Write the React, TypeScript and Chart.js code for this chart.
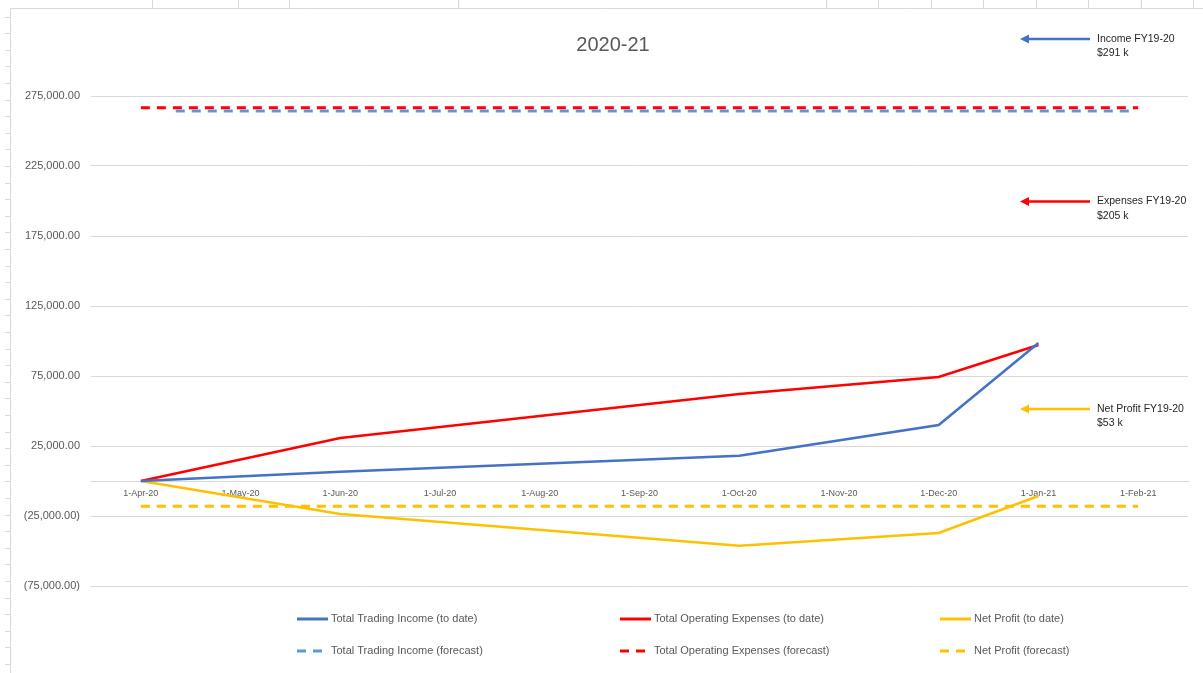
import React, { useEffect, useRef } from 'react';
import { Chart, registerables } from 'chart.js';

Chart.register(...registerables);

// ---------------- data ----------------
const TITLE = '2020-21';
const MONTH_LABELS = [
  '1-Apr-20', '1-May-20', '1-Jun-20', '1-Jul-20', '1-Aug-20', '1-Sep-20',
  '1-Oct-20', '1-Nov-20', '1-Dec-20', '1-Jan-21', '1-Feb-21',
];
const Y_TICKS = [-75000, -25000, 25000, 75000, 125000, 175000, 225000, 275000];
const Y_MIN = -75000;
const Y_MAX = 300000;

// month index of each actual ("to date") observation
const ACTUAL_MONTHS = [0, 2, 6, 8, 9];
const INCOME_TO_DATE = [0, 6600, 18100, 40000, 98600];
const EXPENSES_TO_DATE = [0, 30700, 62100, 74300, 97100];
const NET_PROFIT_TO_DATE = [0, -23600, -46200, -37100, -10700];

// forecast lines: start/end month index and value
const INCOME_FORECAST_SPAN = [0.35, 9.93];
const INCOME_FORECAST = [264300, 264300];
const EXPENSES_FORECAST_SPAN = [0, 10];
const EXPENSES_FORECAST = [266600, 266600];
const NET_PROFIT_FORECAST_SPAN = [0, 10];
const NET_PROFIT_FORECAST = [-18000, -18000];

const SERIES_NAMES = [
  'Total Trading Income (to date)',
  'Total Operating Expenses (to date)',
  'Net Profit (to date)',
  'Total Trading Income (forecast)',
  'Total Operating Expenses (forecast)',
  'Net Profit (forecast)',
];
const NOTE_INCOME = ['Income FY19-20', '$291 k'];
const NOTE_EXPENSES = ['Expenses FY19-20', '$205 k'];
const NOTE_NET = ['Net Profit FY19-20', '$53 k'];

// ---------------- styles ----------------
const BLUE = '#4472C4';
const RED = '#FF0000';
const GOLD = '#FFC000';
const LIGHT_BLUE = '#5B9BD5';
const GRID = '#D9D9D9';
const TEXT = '#595959';
const FONT = "'Liberation Sans', Arial, sans-serif";
const DASH = [9, 7];

const fmtNum = (v: number) => {
  const a = Math.abs(v);
  const [i, d] = a.toFixed(2).split('.');
  const withCommas = i.replace(/\B(?=(\d{3})+(?!\d))/g, ',');
  const s = `${withCommas}.${d}`;
  return v < 0 ? `(${s})` : s;
};

const pts = (xs: number[], ys: number[]) => xs.map((x, i) => ({ x, y: ys[i] }));

const decorPlugin = {
  id: 'decor',
  beforeDraw(chart: any) {
    const ctx = chart.ctx as CanvasRenderingContext2D;
    ctx.save();
    ctx.fillStyle = '#ffffff';
    ctx.fillRect(0, 0, chart.width, chart.height);
    ctx.strokeStyle = GRID;
    ctx.lineWidth = 1;
    // sheet cell marks around chart frame
    ctx.beginPath();
    [152, 238, 289, 458, 826, 878, 931, 983, 1036, 1088, 1141, 1193].forEach((x) => {
      ctx.moveTo(x + 0.5, 0);
      ctx.lineTo(x + 0.5, 8);
    });
    for (let y = 16.6; y < chart.height; y += 16.6) {
      ctx.moveTo(5, Math.round(y) + 0.5);
      ctx.lineTo(10, Math.round(y) + 0.5);
    }
    // chart frame
    ctx.moveTo(10.5, chart.height);
    ctx.lineTo(10.5, 8.5);
    ctx.lineTo(chart.width, 8.5);
    ctx.stroke();
    ctx.restore();
  },
  afterDraw(chart: any) {
    const ctx = chart.ctx as CanvasRenderingContext2D;
    ctx.save();
    // title
    ctx.fillStyle = TEXT;
    ctx.font = `20px ${FONT}`;
    ctx.textAlign = 'center';
    ctx.textBaseline = 'middle';
    ctx.fillText(TITLE, 613, 45);

    // notes with arrows
    const notes = [
      { lines: NOTE_INCOME, color: BLUE, y: 39 },
      { lines: NOTE_EXPENSES, color: RED, y: 201.5 },
      { lines: NOTE_NET, color: GOLD, y: 409 },
    ];
    notes.forEach((n) => {
      ctx.strokeStyle = n.color;
      ctx.fillStyle = n.color;
      ctx.lineWidth = 2.5;
      ctx.beginPath();
      ctx.moveTo(1027, n.y);
      ctx.lineTo(1090, n.y);
      ctx.stroke();
      ctx.beginPath();
      ctx.moveTo(1020, n.y);
      ctx.lineTo(1029, n.y - 4.5);
      ctx.lineTo(1029, n.y + 4.5);
      ctx.closePath();
      ctx.fill();
      ctx.fillStyle = '#262626';
      ctx.font = `10.5px ${FONT}`;
      ctx.textAlign = 'left';
      ctx.textBaseline = 'middle';
      ctx.fillText(n.lines[0], 1097, n.y);
      ctx.fillText(n.lines[1], 1097, n.y + 14.5);
    });

    // legend
    const cols = [297, 620, 940];
    const rows = [619, 651];
    const colors = [BLUE, RED, GOLD, LIGHT_BLUE, RED, GOLD];
    SERIES_NAMES.forEach((name, i) => {
      const x = cols[i % 3];
      const y = rows[Math.floor(i / 3)];
      ctx.strokeStyle = colors[i];
      ctx.lineWidth = 3;
      ctx.lineCap = 'butt';
      ctx.setLineDash(i >= 3 ? DASH : []);
      ctx.beginPath();
      ctx.moveTo(x, y);
      ctx.lineTo(x + 31, y);
      ctx.stroke();
      ctx.setLineDash([]);
      ctx.fillStyle = TEXT;
      ctx.font = `11px ${FONT}`;
      ctx.textAlign = 'left';
      ctx.textBaseline = 'middle';
      ctx.fillText(name, x + 34, y);
    });
    ctx.restore();
  },
};

export default function App() {
  const ref = useRef<HTMLCanvasElement | null>(null);

  useEffect(() => {
    if (!ref.current) return;
    const solid = (label: string, color: string, ys: number[]) => ({
      label,
      data: pts(ACTUAL_MONTHS, ys),
      borderColor: color,
      backgroundColor: color,
      borderWidth: 2.5,
      pointRadius: 0,
      tension: 0,
      fill: false,
    });
    const dashed = (label: string, color: string, xs: number[], ys: number[]) => ({
      label,
      data: pts(xs, ys),
      borderColor: color,
      backgroundColor: color,
      borderWidth: 3,
      borderDash: DASH,
      borderCapStyle: 'butt',
      pointRadius: 0,
      tension: 0,
      fill: false,
    });

    const chart = new Chart(ref.current, {
      type: 'line',
      data: {
        datasets: [
          solid(SERIES_NAMES[0], BLUE, INCOME_TO_DATE),
          solid(SERIES_NAMES[1], RED, EXPENSES_TO_DATE),
          solid(SERIES_NAMES[2], GOLD, NET_PROFIT_TO_DATE),
          dashed(SERIES_NAMES[3], LIGHT_BLUE, INCOME_FORECAST_SPAN, INCOME_FORECAST),
          dashed(SERIES_NAMES[4], RED, EXPENSES_FORECAST_SPAN, EXPENSES_FORECAST),
          dashed(SERIES_NAMES[5], GOLD, NET_PROFIT_FORECAST_SPAN, NET_PROFIT_FORECAST),
        ] as any,
      },
      options: {
        responsive: false,
        animation: false,
        layout: { padding: { left: 10, right: 15, top: 61, bottom: 87 } },
        plugins: {
          legend: { display: false },
          title: { display: false },
          tooltip: { enabled: false },
        },
        scales: {
          x: {
            type: 'linear',
            min: -0.5,
            max: MONTH_LABELS.length - 0.5,
            position: { y: 0 } as any,
            afterBuildTicks: (s: any) => {
              s.ticks = MONTH_LABELS.map((_, i) => ({ value: i }));
            },
            grid: { display: false, drawTicks: false },
            border: { display: true, color: GRID, width: 1 },
            ticks: {
              autoSkip: false,
              maxRotation: 0,
              padding: 7,
              color: TEXT,
              font: { family: FONT, size: 9 },
              callback: (v: any) => MONTH_LABELS[Math.round(Number(v))] ?? '',
            },
          },
          y: {
            type: 'linear',
            min: Y_MIN,
            max: Y_MAX,
            afterBuildTicks: (s: any) => {
              s.ticks = Y_TICKS.map((v) => ({ value: v }));
            },
            afterFit: (s: any) => {
              s.width = 81;
            },
            grid: { color: GRID, lineWidth: 1, drawTicks: false },
            border: { display: false },
            ticks: {
              padding: 11,
              color: TEXT,
              font: { family: FONT, size: 11 },
              callback: (v: any) => fmtNum(Number(v)),
            },
          },
        },
      },
      plugins: [decorPlugin],
    });
    return () => chart.destroy();
  }, []);

  return (
    <div style={{ position: 'fixed', left: 0, top: 0, width: 1203, height: 673, background: '#fff' }}>
      <canvas ref={ref} width={1203} height={673} style={{ display: 'block' }} />
    </div>
  );
}
